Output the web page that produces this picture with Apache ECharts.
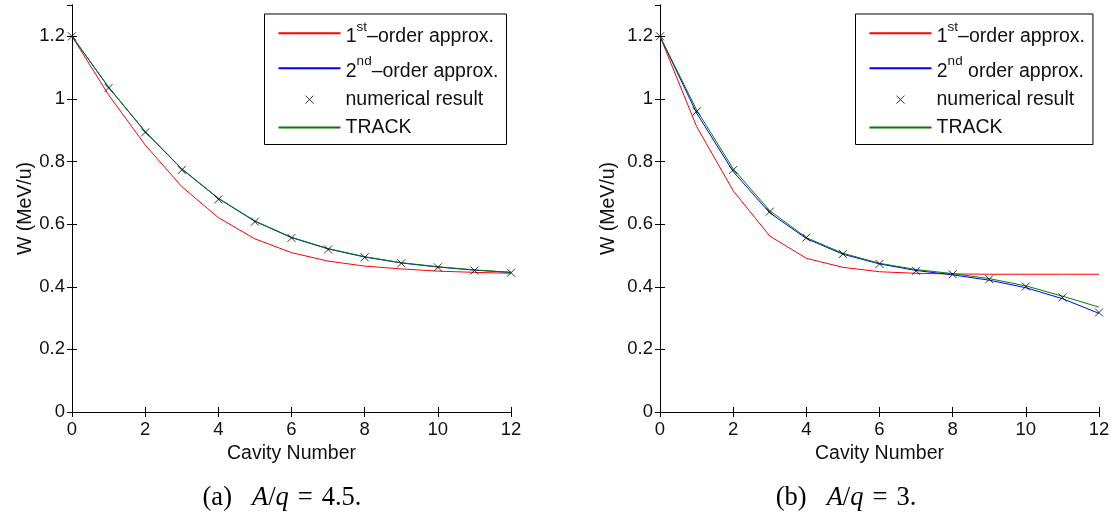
<!DOCTYPE html>
<html>
<head>
<meta charset="utf-8">
<script src="https://cdn.jsdelivr.net/npm/echarts@6/dist/echarts.min.js"></script>
<style>
html,body{margin:0;padding:0;background:#fff;}
#c{width:1114px;height:514px;}
</style>
</head>
<body>
<div id="c"></div>
<script>
// ---- data ----
const cavity = [0,1,2,3,4,5,6,7,8,9,10,11,12];
const xTicks = [0,2,4,6,8,10,12];
const yTicks = [0,0.2,0.4,0.6,0.8,1,1.2];

// (a) A/q = 4.5
const firstA   = [1.2, 1.013, 0.853, 0.720, 0.621, 0.553, 0.509, 0.482, 0.466, 0.457, 0.450, 0.446, 0.443];
const secondA  = [1.2, 1.037, 0.895, 0.776, 0.682, 0.609, 0.557, 0.521, 0.495, 0.476, 0.463, 0.453, 0.446];
const numA     = [1.2, 1.035, 0.893, 0.773, 0.679, 0.608, 0.556, 0.519, 0.494, 0.475, 0.462, 0.452, 0.445];
const trackA   = [1.2, 1.038, 0.896, 0.777, 0.683, 0.610, 0.558, 0.522, 0.496, 0.477, 0.464, 0.454, 0.446];

// (b) A/q = 3
const firstB   = [1.2, 0.912, 0.707, 0.562, 0.491, 0.462, 0.448, 0.443, 0.441, 0.440, 0.440, 0.440, 0.440];
const secondB  = [1.2, 0.955, 0.768, 0.636, 0.554, 0.504, 0.473, 0.452, 0.438, 0.421, 0.397, 0.362, 0.315];
const numB     = [1.2, 0.960, 0.773, 0.640, 0.557, 0.505, 0.473, 0.451, 0.440, 0.424, 0.401, 0.366, 0.318];
const trackB   = [1.2, 0.965, 0.777, 0.643, 0.557, 0.507, 0.475, 0.455, 0.442, 0.426, 0.403, 0.370, 0.335];

const legendTextA = ['1{s|st}–order approx.', '2{s|nd}–order approx.', 'numerical result', 'TRACK'];
const legendTextB = ['1{s|st}–order approx.', '2{s|nd} order approx.', 'numerical result', 'TRACK'];
const xName = 'Cavity Number';
const yName = 'W (MeV/u)';

// ---- build ----
const FONT = 'Liberation Sans';
const pairs = ys => cavity.map((x,i)=>[x, ys[i]]);
const crossPath = 'path://M0,0L8,8M8,0L0,8';
const crossLegend = 'path://M-3,-3M0,0L8,8M8,0L0,8M11,11';

const grids = [
  {left:72, top:5, width:439, height:407},
  {left:660, top:5, width:439, height:407}
];

function fmtY(v){
  const r = Math.round(v*10)/10;
  if (!yTicks.some(t=>Math.abs(t-r)<1e-9) || Math.abs(v-r)>1e-6) return '';
  return String(r);
}

const xAxes = [], yAxes = [];
grids.forEach((g,gi)=>{
  xAxes.push({
    type:'value', gridIndex:gi, min:0, max:12, interval:2, position:'bottom',
    name:xName, nameLocation:'middle', nameGap:32,
    nameTextStyle:{fontFamily:FONT, fontSize:19.5, color:'#111'},
    axisLine:{show:true, lineStyle:{color:'#000', width:1}},
    axisTick:{show:true, inside:true, length:5, lineStyle:{color:'#000'}},
    axisLabel:{show:true, margin:8, fontFamily:FONT, fontSize:18.5, color:'#111'},
    splitLine:{show:false}
  });
  xAxes.push({
    type:'value', gridIndex:gi, min:0, max:12, interval:2, position:'top',
    axisLine:{show:true, lineStyle:{color:'#000', width:1}},
    axisTick:{show:true, inside:true, length:5, lineStyle:{color:'#000'}},
    axisLabel:{show:false}, splitLine:{show:false}
  });
  yAxes.push({
    type:'value', gridIndex:gi, min:0, max:1.3, interval:0.2, position:'left',
    name:yName, nameLocation:'middle', nameGap: gi===0 ? 33 : 41, nameRotate:90,
    nameTextStyle:{fontFamily:FONT, fontSize:19.5, color:'#111'},
    axisLine:{show:true, lineStyle:{color:'#000', width:1}},
    axisTick:{show:true, inside:true, length:5, lineStyle:{color:'#000'}},
    axisLabel:{show:true, margin:7, fontFamily:FONT, fontSize:18.5, color:'#111', formatter:fmtY, showMaxLabel:false},
    splitLine:{show:false}
  });
  yAxes.push({
    type:'value', gridIndex:gi, min:0, max:1.3, interval:0.2, position:'right',
    axisLine:{show:true, lineStyle:{color:'#000', width:1}},
    axisTick:{show:true, inside:true, length:5, lineStyle:{color:'#000'}},
    axisLabel:{show:false}, splitLine:{show:false}
  });
});

function lineSeries(name, data, color, gi){
  return {
    type:'line', name:name, xAxisIndex:gi*2, yAxisIndex:gi*2, data:pairs(data),
    symbol:'none', showSymbol:false, smooth:false, animation:false,
    lineStyle:{color:color, width:1}, itemStyle:{color:color}
  };
}
function crossSeries(name, data, gi){
  return {
    type:'scatter', name:name, xAxisIndex:gi*2, yAxisIndex:gi*2, data:pairs(data),
    symbol:crossPath, symbolSize:8, animation:false, z:5,
    itemStyle:{color:'rgba(0,0,0,0)', borderColor:'#000', borderWidth:1}
  };
}

const series = [
  lineSeries('a1', firstA, '#ff0000', 0),
  lineSeries('a2', secondA, '#0000ff', 0),
  lineSeries('a4', trackA, '#008000', 0),
  crossSeries('a3', numA, 0),
  lineSeries('b1', firstB, '#ff0000', 1),
  lineSeries('b2', secondB, '#0000ff', 1),
  lineSeries('b4', trackB, '#008000', 1),
  crossSeries('b3', numB, 1)
];

function fmtLegend(texts){
  return function(name){
    const idx = parseInt(name.slice(1),10)-1;
    const t = texts[idx];
    if (t.indexOf('{s|')>=0){
      const parts = t.split(/(\{s\|[^}]*\})/);
      return '{h| }' + parts.map(p => p.startsWith('{s|') ? p : (p ? '{n|'+p+'}' : '')).join('');
    }
    return '{m|'+t+'}';
  };
}
const legendRich = {
  h:{fontSize:1, lineHeight:27, verticalAlign:'top'},
  n:{fontFamily:FONT, fontSize:19.5, lineHeight:13, verticalAlign:'bottom', color:'#111'},
  s:{fontFamily:FONT, fontSize:13.5, lineHeight:18.2, verticalAlign:'top', color:'#111'},
  m:{fontFamily:FONT, fontSize:19.5, lineHeight:20, verticalAlign:'middle', color:'#111'}
};
const hideSym = {opacity:0};
function makeLegend(prefix, texts, left){
  return {
    orient:'vertical', left:left, top:14,
    data:[
      {name:prefix+'1', itemStyle:hideSym},
      {name:prefix+'2', itemStyle:hideSym},
      {name:prefix+'3', icon:crossLegend, itemStyle:{color:'rgba(0,0,0,0)', borderColor:'#000', borderWidth:1}},
      {name:prefix+'4', itemStyle:hideSym}
    ],
    itemWidth:62, itemHeight:14, itemGap:7.9,
    padding:[5.8, 8, 7, 13],
    backgroundColor:'#fff', borderColor:'#000', borderWidth:1,
    selectedMode:false,
    formatter: fmtLegend(texts),
    textStyle:{fontFamily:FONT, fontSize:19.5, color:'#111', rich:legendRich}
  };
}

const captionRich = {
  t:{fontFamily:'Liberation Serif', fontSize:26.5, color:'#000'},
  i:{fontFamily:'Liberation Serif', fontSize:26.5, fontStyle:'italic', color:'#000'},
  sp:{fontFamily:'Liberation Serif', fontSize:26.5, width:20},
  eq:{fontFamily:'Liberation Serif', fontSize:26.5, color:'#000', padding:[0,9,0,9]}
};

const option = {
  backgroundColor:'#fff',
  animation:false,
  grid: grids,
  xAxis: xAxes,
  yAxis: yAxes,
  legend:[ makeLegend('a', legendTextA, 264.5), makeLegend('b', legendTextB, 855.5) ],
  series: series,
  graphic:[
    {type:'text', x:282, y:498, style:{
      text:'{t|(a)}{sp| }{i|A}{t|/}{i|q}{eq|=}{t|4.5.}', rich:captionRich,
      align:'center', verticalAlign:'middle'}},
    {type:'text', x:846, y:498, style:{
      text:'{t|(b)}{sp| }{i|A}{t|/}{i|q}{eq|=}{t|3.}', rich:captionRich,
      align:'center', verticalAlign:'middle'}}
  ]
};

const chart = echarts.init(document.getElementById('c'), null, {renderer:'canvas'});
chart.setOption(option);
</script>
</body>
</html>
